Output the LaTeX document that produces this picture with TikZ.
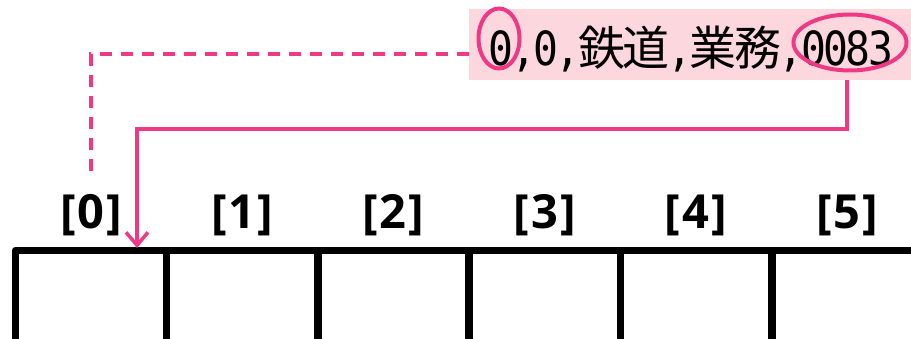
\documentclass[tikz,border=0pt]{standalone}
\usepackage{fontspec}
\usetikzlibrary{arrows.meta,shapes.geometric}
\newfontfamily\jpfont{Noto Sans CJK JP}
\newfontfamily\monofont{DejaVu Sans Mono}
\newfontfamily\labfont{Open Sans}
\definecolor{pk}{HTML}{EE3A84}
\definecolor{pkbg}{HTML}{FDD7DE}
\newcommand\hw[1]{\makebox[22.3pt]{\scalebox{0.88}[1]{\monofont #1}}}
\newcommand\fw[1]{\makebox[44.6pt]{\jpfont #1}}
\newcommand\idx[1]{\makebox[16pt][l]{[}\makebox[30pt]{#1}\makebox[16pt][r]{]}}
\tikzset{
  lab/.style={font=\labfont\bfseries\fontsize{47}{49}\selectfont, inner sep=0pt, anchor=center},
  ring/.style={ellipse, draw=pk, line width=4pt, inner sep=0pt},
  pkline/.style={draw=pk, line width=3.5pt},
  cellline/.style={line width=7.5pt, line join=round}
}
\begin{document}
\begin{tikzpicture}[x=1pt,y=-1pt]
\useasboundingbox (0,0) rectangle (911,339);
% record box
\node[fill=pkbg, inner sep=0pt, minimum width=442pt, minimum height=71pt, anchor=north west] (box) at (469,9) {};
\node[anchor=base west, inner sep=0pt, font=\fontsize{47}{50}\selectfont] (txt) at (490,66)
  {\hw0\hw,\hw0\hw,\fw{鉄}\fw{道}\hw,\fw{業}\fw{務}\hw,\hw0\hw0\hw8\hw3};
\node[ring, minimum width=41pt, minimum height=60pt] (z0) at (499,38.5) {};
\node[ring, minimum width=113pt, minimum height=56pt] (z83) at (850,42.5) {};
% array
\draw[cellline] (15.5,339) -- (15.5,250.5) -- (911,250.5);
\foreach \x in {166.5,318,469,620.5,772} \draw[line width=7.5pt] (\x,250.5) -- (\x,339);
\foreach \i in {0,...,5} \node[lab] (l\i) at ({91+151.2*\i},215) {\idx{\i}};
% connectors
\coordinate (dEnd) at (91,177);
\coordinate (sStart) at (847,80);
\coordinate (sTurn) at (137,129);
\coordinate (c0top) at (137,248);
\draw[pkline, dash pattern=on 12pt off 9pt] ([yshift=-9.5pt]box.west) -| (dEnd);
\draw[pkline, -{Straight Barb[length=13pt,width=22pt,line width=3.5pt]}] (sStart) |- (sTurn) -- (c0top);
\end{tikzpicture}
\end{document}
